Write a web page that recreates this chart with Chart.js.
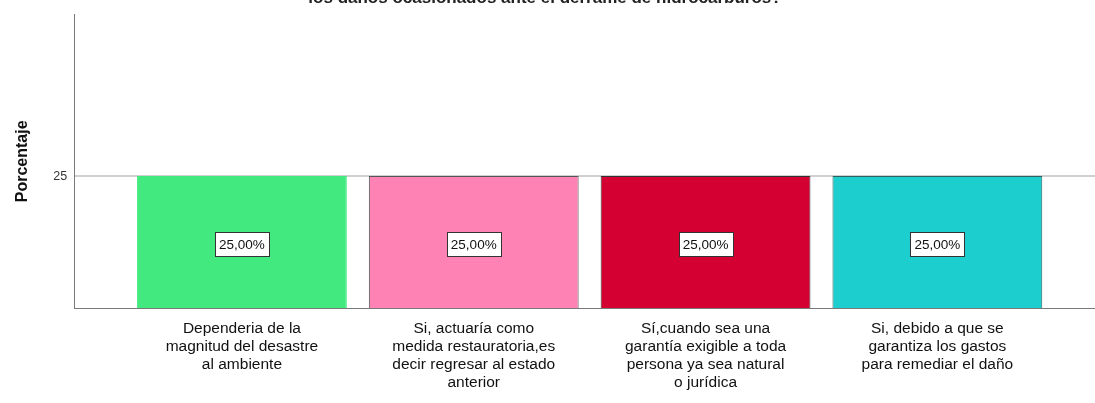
<!DOCTYPE html>
<html>
<head>
<meta charset="utf-8">
<script src="https://cdn.jsdelivr.net/npm/chart.js@4"></script>
<style>
  html, body { margin: 0; padding: 0; background: #fff; }
  #wrap { width: 1095px; height: 403px; position: relative; }
</style>
</head>
<body>
<div id="wrap"><canvas id="chart"></canvas></div>
<script>
// --- Data ---
const categories = [
  ['Dependeria de la', 'magnitud del desastre', 'al ambiente'],
  ['Si, actuaría como', 'medida restauratoria,es', 'decir regresar al estado', 'anterior'],
  ['Sí,cuando sea una', 'garantía exigible a toda', 'persona ya sea natural', 'o jurídica'],
  ['Si, debido a que se', 'garantiza los gastos', 'para remediar el daño']
];
const percentages = [25, 25, 25, 25];
const barColors = ['#42E97F', '#FF82B4', '#D50032', '#1DCECE'];
const edgeColors = ['#42E97F', '#555555', '#333333', '#2f5f5f'];
const yTicks = [25];
const titleText = 'los daños ocasionados ante el derrame de hidrocarburos?';
const yTitle = 'Porcentaje';

// --- Plugins ---
const cutTitle = {
  id: 'cutTitle',
  afterDraw(chart) {
    const c = chart.ctx;
    c.save();
    c.font = "bold 17px 'Liberation Sans', Arial, sans-serif";
    c.fillStyle = '#222';
    c.textAlign = 'center';
    c.textBaseline = 'alphabetic';
    c.fillText(titleText, 545, 3);
    c.restore();
  }
};

const boxLabels = {
  id: 'boxLabels',
  afterDatasetsDraw(chart) {
    const c = chart.ctx;
    const meta = chart.getDatasetMeta(0);
    c.save();
    c.font = "13.5px 'Liberation Sans', Arial, sans-serif";
    c.textAlign = 'center';
    c.textBaseline = 'middle';
    meta.data.forEach((bar, i) => {
      const { x, y, base } = bar.getProps(['x', 'y', 'base'], true);
      const txt = percentages[i].toFixed(2).replace('.', ',') + '%';
      const w = Math.round(c.measureText(txt).width + 8);
      const h = 24;
      const cy = (y + base) / 2 + 2;
      const bx = Math.round(x - w / 2) + 0.5, by = Math.round(cy - h / 2) + 0.5;
      c.fillStyle = '#fff';
      c.fillRect(bx, by, w, h);
      c.strokeStyle = '#333';
      c.lineWidth = 1;
      c.strokeRect(bx, by, w, h);
      c.fillStyle = '#111';
      c.fillText(txt, x, cy + 1);
    });
    c.restore();
  }
};

new Chart(document.getElementById('chart'), {
  type: 'bar',
  data: {
    datasets: [{
      data: percentages.map((v, i) => ({ x: i, y: v })),
      backgroundColor: barColors,
      borderColor: edgeColors,
      borderWidth: 1,
      borderSkipped: 'bottom',
      barPercentage: 0.905,
      categoryPercentage: 1
    }]
  },
  options: {
    responsive: true,
    maintainAspectRatio: false,
    animation: false,
    layout: { padding: { top: 1, right: 0, left: 13, bottom: -1 } },
    plugins: { legend: { display: false }, tooltip: { enabled: false }, title: { display: false } },
    scales: {
      x: {
        type: 'linear',
        min: -0.724,
        max: 3.68,
        offset: false,
        afterBuildTicks: (s) => { s.ticks = categories.map((c, i) => ({ value: i })); },
        grid: { display: false, drawTicks: false },
        border: { color: '#7a7a7a', width: 1 },
        ticks: {
          autoSkip: false,
          maxRotation: 0,
          padding: 12,
          color: '#111',
          font: { family: "'Liberation Sans', Arial, sans-serif", size: 15.5, lineHeight: 1.16 },
          callback: (v) => categories[v]
        }
      },
      y: {
        min: 0,
        max: 55.6,
        afterBuildTicks: (s) => { s.ticks = yTicks.map(v => ({ value: v })); },
        grid: { color: '#d0d0d0', drawTicks: false, lineWidth: 2 },
        border: { color: '#7a7a7a', width: 1 },
        ticks: { padding: 7, color: '#333', font: { family: "'Liberation Sans', Arial, sans-serif", size: 12.5 } },
        title: {
          display: true,
          text: yTitle,
          color: '#111',
          padding: { top: 0, bottom: 14 },
          font: { family: "'Liberation Sans', Arial, sans-serif", size: 16, weight: 'bold' }
        }
      }
    }
  },
  plugins: [cutTitle, boxLabels]
});
</script>
</body>
</html>
